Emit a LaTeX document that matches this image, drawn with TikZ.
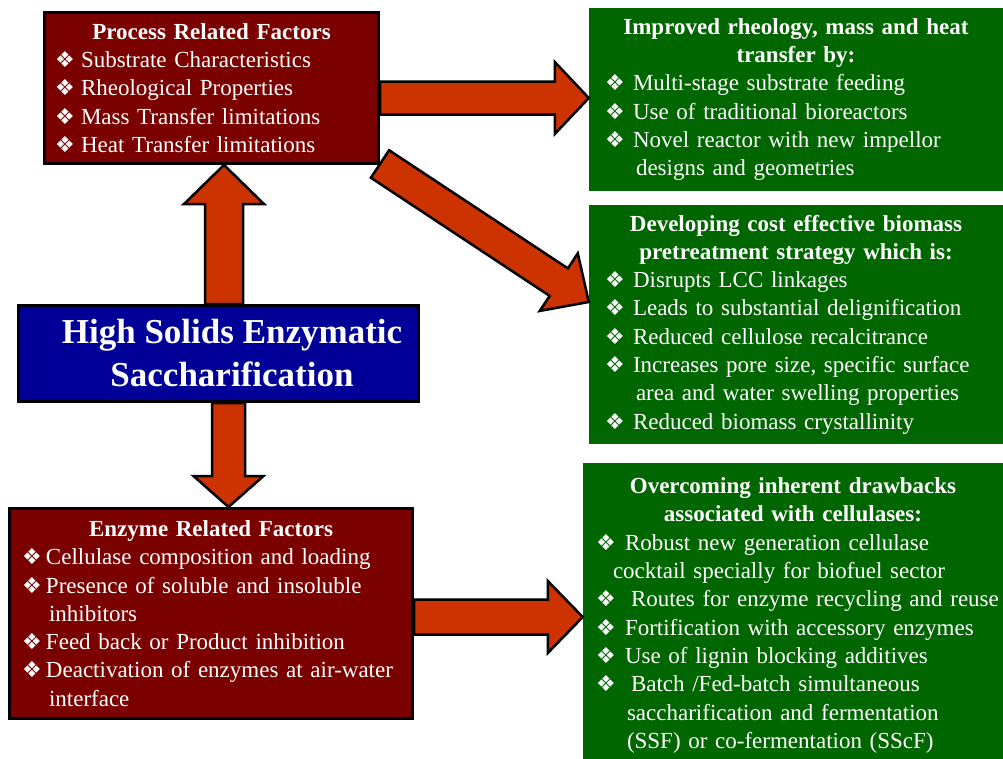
\documentclass[tikz,border=0pt]{standalone}
\usepackage{fontspec}
\setmainfont{Liberation Serif}
\newfontfamily\dingfont{DejaVu Sans}
\usetikzlibrary{calc}
\definecolor{boxred}{RGB}{123, 0, 0}
\definecolor{boxblue}{RGB}{0, 0, 153}
\definecolor{boxgreen}{RGB}{0, 102, 0}
\definecolor{arrred}{RGB}{204, 51, 0}

\newcommand{\bul}{{\dingfont\fontsize{22}{22}\selectfont ❖}}
\newcommand{\itm}[1][26pt]{\makebox[#1][l]{\smash{\bul}}}
\newcommand{\ttl}[1]{\makebox[\hsize]{\bfseries #1}}
% block arrow: from, to, shaft half width, head half width, head length
\newcommand{\fatarrow}[5]{%
  \path ($(#2)!#5!(#1)$) coordinate (hb);
  \draw[fatarr] ($(#1)!#3!90:(#2)$) -- ($(hb)!#3!-90:(#1)$) -- ($(hb)!#4!-90:(#1)$) -- (#2)
    -- ($(hb)!#4!90:(#1)$) -- ($(hb)!#3!90:(#1)$) -- ($(#1)!#3!-90:(#2)$) -- cycle;
}

\begin{document}
\begin{tikzpicture}[x=1pt, y=-1pt,
  every node/.style={text=white, font=\fontsize{23}{28.3}\selectfont},
  redbox/.style={draw=black, line width=3pt, fill=boxred, align=left, inner xsep=0pt, inner ysep=0pt},
  greenbox/.style={fill=boxgreen, align=left, inner xsep=0pt, inner ysep=0pt},
  bluebox/.style={draw=black, line width=3pt, fill=boxblue, align=center,
    font=\fontsize{35}{43}\selectfont\bfseries},
  fatarr/.style={draw=black, line width=2.5pt, fill=arrred}]

  \useasboundingbox (0, 0) rectangle (1003, 758);

  \node[redbox, minimum width=334pt, minimum height=151pt, text width=313pt] (proc) at (211.5, 88)
    {\ttl{Process Related Factors}\\
     \itm Substrate Characteristics\\
     \itm Rheological Properties\\
     \itm Mass Transfer limitations\\
     \itm Heat Transfer limitations};

  \node[bluebox, minimum width=400pt, minimum height=96pt] (blue) at (218.5, 353.5)
    {\hspace*{27pt}High Solids Enzymatic\\ \hspace*{27pt}Saccharification};

  \node[redbox, minimum width=403pt, minimum height=210pt, text width=378pt] (enz) at (211, 613.5)
    {\ttl{Enzyme Related Factors}\\
     \itm[24pt]Cellulase composition and loading\\
     \itm[24pt]Presence of soluble and insoluble\\
     \hspace*{27pt}inhibitors\\
     \itm[24pt]Feed back or Product inhibition\\
     \itm[24pt]Deactivation of enzymes at air-water\\
     \hspace*{27pt}interface};

  \node[greenbox, minimum width=414pt, minimum height=183pt, text width=382pt] (grn1) at (796, 99.5)
    {\ttl{Improved rheology, mass and heat}\\
     \ttl{transfer by:}\\
     \itm[28pt]Multi-stage substrate feeding\\
     \itm[28pt]Use of traditional bioreactors\\
     \itm[28pt]Novel reactor with new impellor\\
     \hspace*{31pt}designs and geometries};

  \node[greenbox, minimum width=414pt, minimum height=239pt, text width=382pt] (grn2) at (796, 324.5)
    {\ttl{Developing cost effective biomass}\\
     \ttl{pretreatment strategy which is:}\\
     \itm[28pt]Disrupts LCC linkages\\
     \itm[28pt]Leads to substantial delignification\\
     \itm[28pt]Reduced cellulose recalcitrance\\
     \itm[28pt]Increases pore size, specific surface\\
     \hspace*{31pt}area and water swelling properties\\
     \itm[28pt]Reduced biomass crystallinity};

  \node[greenbox, minimum width=420pt, minimum height=305pt, text width=394pt] (grn3) at (793, 615.5)
    {\ttl{Overcoming inherent drawbacks}\\
     \ttl{associated with cellulases:}\\
     \itm[29pt]Robust new generation cellulase\\
     \hspace*{17pt}cocktail specially for biofuel sector\\
     \itm[35pt]\mbox{Routes for enzyme recycling and reuse}\\
     \itm[29pt]Fortification with accessory enzymes\\
     \itm[29pt]Use of lignin blocking additives\\
     \itm[35pt]Batch /Fed-batch simultaneous\\
     \hspace*{31pt}saccharification and fermentation\\
     \hspace*{31pt}(SSF) or co-fermentation (SScF)};

  % arrows
  \coordinate (upA) at (blue.north -| 224,0);
  \coordinate (upB) at (proc.south -| 224,0);
  \coordinate (dnA) at (blue.south -| 228.5,0);
  \coordinate (dnB) at (enz.north -| 228.5,0);
  \coordinate (rtA) at (proc.east |- 0,98);
  \coordinate (rtB) at (grn1.west |- 0,98);
  \coordinate (dgA) at ($(proc.south east)+(0,-1)$);
  \coordinate (dgB) at (grn2.west |- 0,302);
  \coordinate (btA) at (enz.east |- 0,617);
  \coordinate (btB) at (grn3.west |- 0,617);

  \fatarrow{upA}{upB}{19pt}{40pt}{39pt}
  \fatarrow{dnA}{dnB}{16.5pt}{35pt}{31pt}
  \fatarrow{rtA}{rtB}{16.5pt}{36pt}{34pt}
  \fatarrow{dgA}{dgB}{16.5pt}{34.5pt}{36pt}
  \fatarrow{btA}{btB}{17.5pt}{36pt}{35pt}

\end{tikzpicture}
\end{document}
